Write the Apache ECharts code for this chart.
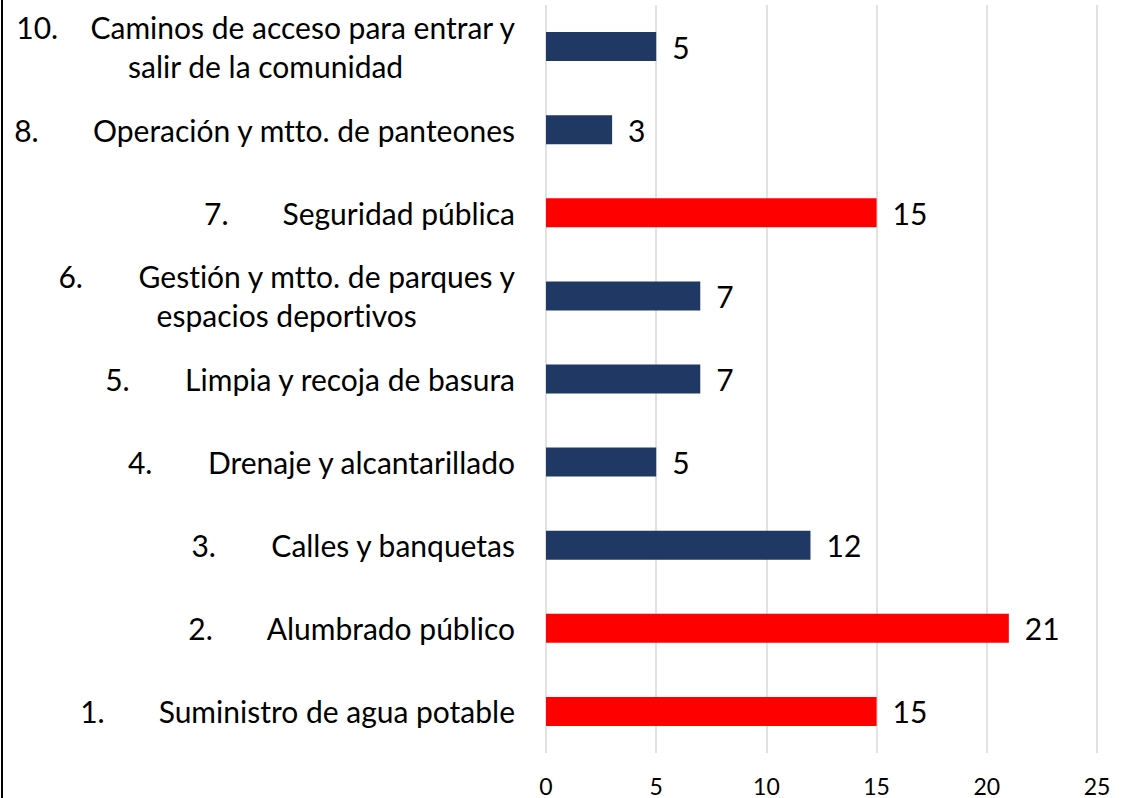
<!DOCTYPE html>
<html>
<head>
<meta charset="utf-8">
<script src="https://cdn.jsdelivr.net/npm/echarts@6/dist/echarts.min.js"></script>
<style>
  html, body { margin: 0; padding: 0; background: #fff; }
  #chart { width: 1137px; height: 798px; }
  /* Lato would otherwise join "ti" */
  #chart text { font-variant-ligatures: none; }
</style>
</head>
<body>
<div id="chart"></div>
<script>
// categories, bottom to top
var itemNums = ['1.', '2.', '3.', '4.', '5.', '6.', '7.', '8.', '10.'];
var itemFirst = [
  'Suministro de agua potable',
  'Alumbrado público',
  'Calles y banquetas',
  'Drenaje y alcantarillado',
  'Limpia y recoja de basura',
  'Gestión y mtto. de parques y',
  'Seguridad pública',
  'Operación y mtto. de panteones',
  'Caminos de acceso para entrar y'
];
var itemSecond = ['', '', '', '', '', 'espacios deportivos', '', '', 'salir de la comunidad'];
var counts = [15, 21, 12, 5, 7, 7, 15, 3, 5];
var highlighted = [true, true, false, false, false, false, true, false, false];
var xTicks = [0, 5, 10, 15, 20, 25];

var RED = '#ff0000';
var NAVY = '#203864';
var FONT = 'Lato';
var FS = 30;

var categories = itemNums.map(function (n, i) { return i; });

var chart = echarts.init(document.getElementById('chart'), null, { renderer: 'svg' });

chart.setOption({
  backgroundColor: '#fff',
  animation: false,
  textStyle: { fontFamily: FONT },
  grid: { left: 546, right: 40, top: 5, bottom: 45, containLabel: false },
  xAxis: {
    type: 'value',
    min: xTicks[0],
    max: xTicks[xTicks.length - 1],
    interval: 5,
    axisLine: { show: false },
    axisTick: { show: false },
    splitLine: { show: true, lineStyle: { color: '#d9d9d9', width: 1.5 } },
    axisLabel: { color: '#000', fontSize: 23, margin: 21, fontFamily: FONT }
  },
  yAxis: {
    type: 'category',
    data: categories,
    axisLine: { show: false },
    axisTick: { show: false },
    axisLabel: {
      margin: 31,
      color: '#000',
      fontSize: FS,
      fontFamily: FONT,
      lineHeight: 39,
      formatter: function (v) {
        var i = +v;
        var gap = itemNums[i] === '10.' ? 'gs' : 'g';
        var s = '{n|' + itemNums[i] + '}{' + gap + '|}{t|' + itemFirst[i] + '}';
        if (itemSecond[i]) s += '\n{c|' + itemSecond[i] + '}';
        return s;
      },
      rich: {
        n: { fontSize: FS, fontFamily: FONT, color: '#000', lineHeight: 39 },
        g: { width: 54, fontSize: FS, lineHeight: 39 },
        gs: { width: 31, fontSize: FS, lineHeight: 39 },
        t: { fontSize: FS, fontFamily: FONT, color: '#000', lineHeight: 39 },
        c: { fontSize: FS, fontFamily: FONT, color: '#000', lineHeight: 39, align: 'center' }
      }
    }
  },
  graphic: [
    { type: 'rect', left: 1, top: 0, shape: { width: 2, height: 798 }, style: { fill: '#000' } }
  ],
  series: [{
    type: 'bar',
    barWidth: 29,
    data: counts.map(function (c, i) {
      return { value: c, itemStyle: { color: highlighted[i] ? RED : NAVY } };
    }),
    label: {
      show: true,
      position: 'right',
      distance: 16,
      color: '#000',
      fontSize: FS,
      fontFamily: FONT
    }
  }]
});
</script>
</body>
</html>
